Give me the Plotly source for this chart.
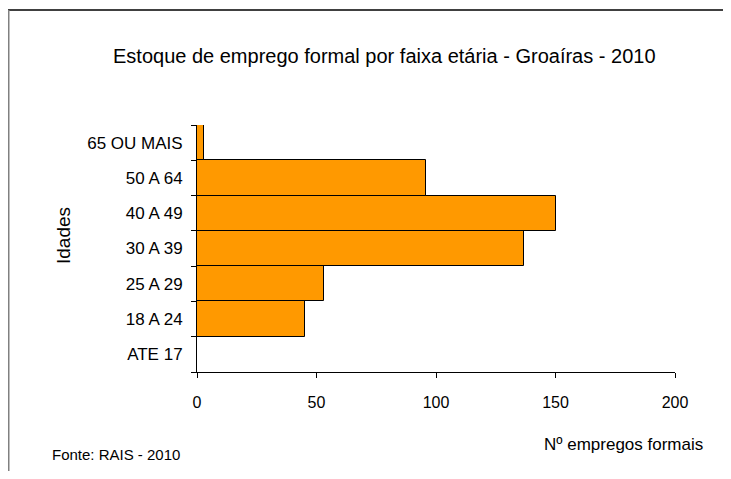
import plotly.graph_objects as go

categories = ["ATE 17", "18 A 24", "25 A 29", "30 A 39", "40 A 49", "50 A 64", "65 OU MAIS"]
values = [0, 45, 53, 137, 150, 96, 3]
x_ticks = [0, 50, 100, 150, 200]

title_text = "Estoque de emprego formal por faixa etária - Groaíras - 2010"
y_title = "Idades"
x_title = "Nº empregos formais"
source_text = "Fonte: RAIS - 2010"

OFF = 8  # default page body margin
W, H = 731 - 2 * OFF, 479 - 2 * OFF
# plot area in page pixel coordinates
L, R, T, B = 197, 675, 125, 372
pw, ph = R - L, B - T

def px(x):
    return (x - L) / pw

def py(y):
    return (B - y) / ph

FONT = "Liberation Sans, Arial, sans-serif"

fig = go.Figure()
fig.add_trace(go.Bar(
    y=categories, x=values, orientation="h",
    marker=dict(color="#FF9900", line=dict(color="black", width=1)),
    width=1.0,
))

fig.update_layout(
    width=W, height=H,
    margin=dict(l=L - OFF, r=(W + OFF) - R, t=T - OFF, b=(H + OFF) - B, pad=0),
    paper_bgcolor="white", plot_bgcolor="white",
    showlegend=False,
    font=dict(family=FONT, color="black"),
    bargap=0,
)
fig.update_xaxes(
    range=[0, 200], tickvals=x_ticks, ticktext=[str(v) for v in x_ticks],
    showgrid=False, zeroline=False, showline=True, linecolor="black", linewidth=1,
    ticks="outside", ticklen=5, tickcolor="black",
    tickfont=dict(size=16, family=FONT), ticklabelstandoff=11,
)
fig.update_yaxes(
    type="category", categoryorder="array", categoryarray=categories,
    range=[-0.5, 6.5], tickson="boundaries",
    showgrid=False, zeroline=False, showline=True, linecolor="black", linewidth=1,
    ticks="outside", ticklen=5, tickcolor="black",
    tickfont=dict(size=17, family=FONT), ticklabelstandoff=10,
)

fig.add_annotation(text=title_text, xref="paper", yref="paper",
                   x=px(384.5), y=py(56), showarrow=False,
                   font=dict(size=20, family=FONT), xanchor="center", yanchor="middle")
fig.add_annotation(text=y_title, xref="paper", yref="paper",
                   x=px(63), y=py(236), showarrow=False, textangle=-90,
                   font=dict(size=19, family=FONT), xanchor="center", yanchor="middle")
fig.add_annotation(text=x_title, xref="paper", yref="paper",
                   x=px(623.5), y=py(444), showarrow=False,
                   font=dict(size=17, family=FONT), xanchor="center", yanchor="middle")
fig.add_annotation(text=source_text, xref="paper", yref="paper",
                   x=px(50), y=py(454), showarrow=False,
                   font=dict(size=15, family=FONT), xanchor="left", yanchor="middle")

fig.add_shape(type="line", xref="paper", yref="paper",
              x0=px(8), x1=px(760), y0=py(10), y1=py(10),
              line=dict(color="black", width=1.5))
fig.add_shape(type="line", xref="paper", yref="paper",
              x0=px(8.5), x1=px(8.5), y0=py(10), y1=py(500),
              line=dict(color="#808080", width=2))

fig.write_html("out.html")
